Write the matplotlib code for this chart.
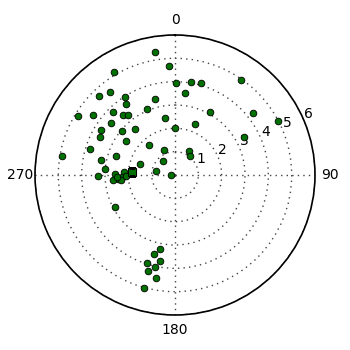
import matplotlib
matplotlib.use('Agg')
import matplotlib.pyplot as plt
import numpy as np

# 方位角 (度, 北为0, 顺时针) 和 径向距离
theta_deg = [350.7, 356.8, 329.3, 0.9, 316.2, 321.7, 327.4, 345.2, 325.1, 301.3,
             306.2, 315.5, 318.9, 321.9, 336.9, 349.9, 309.3, 301.0, 309.3, 319.0,
             359.8, 296.9, 304.5, 319.1, 287.1, 336.3, 279.3, 281.9, 288.1, 319.3,
             275.0, 287.6, 281.2, 272.7, 268.9, 270.5, 272.8, 267.6, 266.2, 265.6,
             264.2, 269.4, 267.8,
             9.6, 16.0, 6.8, 34.9, 28.8, 51.3, 21.1, 62.4, 60.8, 30.4, 38.7,
             242.1, 191.6, 194.6, 197.6, 190.0, 192.4, 195.9, 190.6, 195.2]
radius = [5.35, 4.70, 5.14, 3.94, 4.72, 4.51, 3.99, 3.38, 3.69, 4.88,
          4.37, 3.80, 3.42, 3.28, 3.08, 2.49, 3.55, 3.71, 2.95, 2.63,
          2.02, 3.61, 2.54, 1.71, 3.82, 1.19, 4.92, 3.22, 2.65, 0.80,
          3.02, 1.58, 0.84, 0.18, 3.31, 2.58, 2.20, 2.26, 2.44, 2.66,
          2.32, 2.09, 2.48,
          4.06, 4.12, 3.55, 4.98, 3.09, 4.26, 2.35, 4.96, 3.38, 1.17, 1.02,
          2.89, 3.23, 3.49, 3.94, 3.73, 4.03, 4.27, 4.48, 5.00]

# 平均方向 (方块)
mean_theta_deg = [274.2]
mean_radius = [1.86]

theta_ticks = [0, 90, 180, 270]
r_ticks = [1, 2, 3, 4, 5, 6]

fig = plt.figure(figsize=(3.5, 3.5), dpi=100)
ax = fig.add_axes([0.1, 0.1, 0.8, 0.8], polar=True)
ax.set_theta_zero_location('N')
ax.set_theta_direction(-1)

ax.plot(np.radians(theta_deg), radius, 'o', color='#007000', mec='black',
        mew=0.6, ms=4.8, linestyle='none')
ax.plot(np.radians(mean_theta_deg), mean_radius, 's', color='#007000',
        mec='black', mew=0.8, ms=5.5, linestyle='none')

ax.set_rmax(6)
ax.set_rticks(r_ticks)
ax.set_yticklabels([str(t) for t in r_ticks], fontsize=10)
ax.set_rlabel_position(67.5)
ax.set_thetagrids(theta_ticks, [str(t) for t in theta_ticks], fontsize=10)
ax.tick_params(axis='x', pad=0)
ax.grid(True, color='#444444', linestyle=(0, (1, 3)), linewidth=1.0)
ax.spines['polar'].set_linewidth(1.2)

plt.savefig('out.png', dpi=100)
plt.close()
